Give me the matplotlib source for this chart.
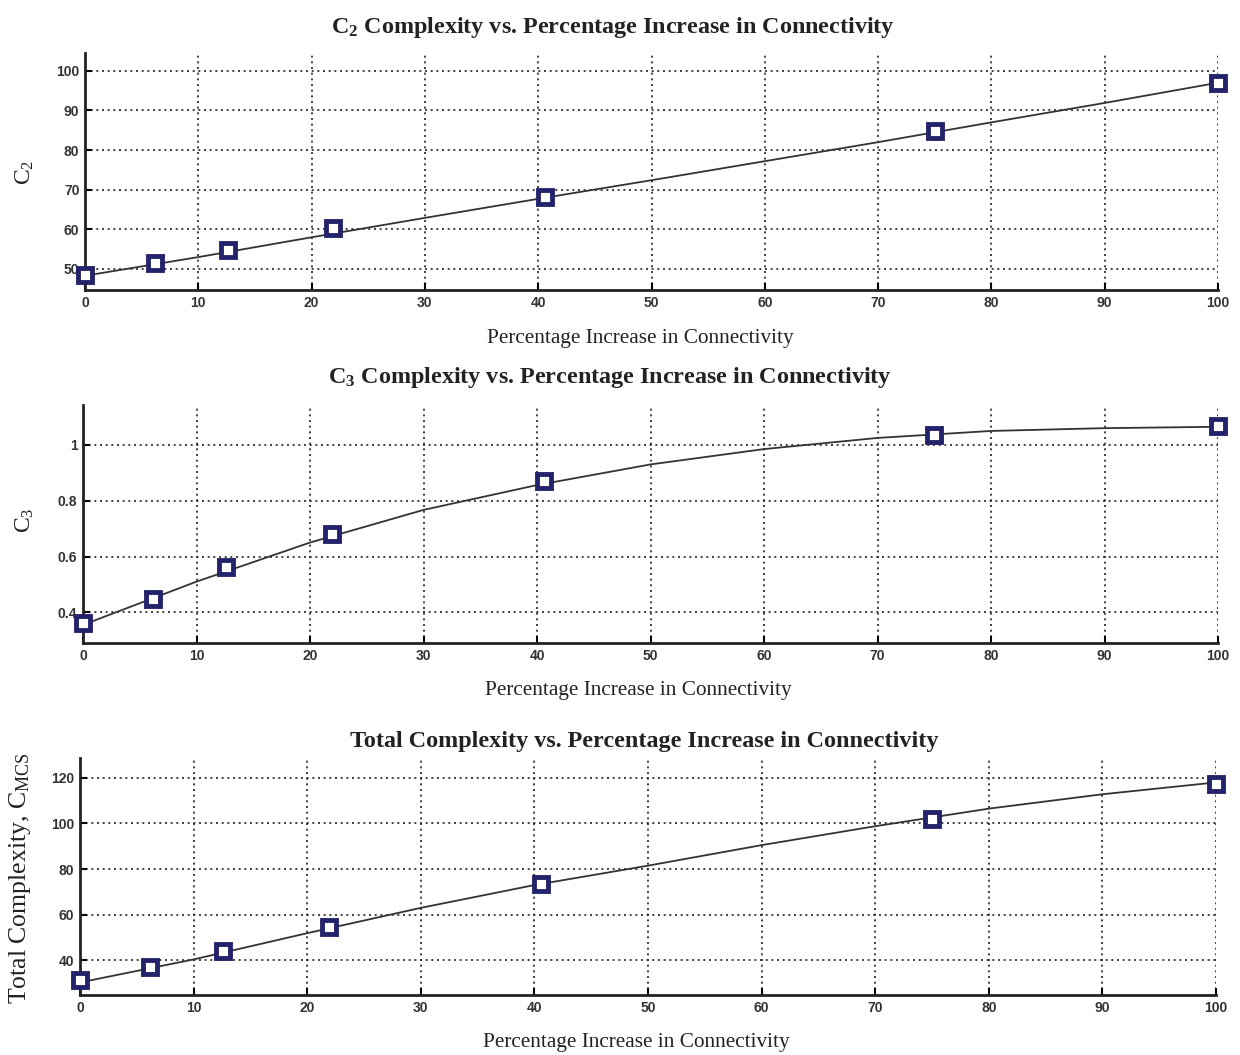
import numpy as np
import matplotlib
matplotlib.use("Agg")
import matplotlib.pyplot as plt
from matplotlib import font_manager

# measured points (percentage increase in connectivity)
pct = [0, 6.2, 12.6, 21.9, 40.6, 75, 100]
c2_pts = [48.5, 51.5, 54.8, 60.4, 68.2, 84.8, 97.0]
c3_pts = [0.36, 0.446, 0.561, 0.682, 0.871, 1.036, 1.068]
tot_pts = [31.2, 36.9, 44.0, 54.5, 73.4, 102.0, 117.4]

# fitted curves
fit_x = [0, 10, 20, 30, 40, 50, 60, 70, 80, 90, 100]
c2_fit = [48.3, 53.0, 58.0, 62.9, 67.7, 72.4, 77.2, 82.0, 87.0, 91.9, 97.0]
c3_fit = [0.355, 0.51, 0.65, 0.767, 0.856, 0.93, 0.985, 1.025, 1.05, 1.06, 1.065]
tot_fit = [30.3, 40.4, 51.9, 63.0, 73.0, 81.5, 90.5, 98.8, 106.5, 112.8, 118.0]

xticks = [0, 10, 20, 30, 40, 50, 60, 70, 80, 90, 100]

installed = {f.name for f in font_manager.fontManager.ttflist}
tick_font = "Liberation Sans Narrow" if "Liberation Sans Narrow" in installed else "Liberation Sans"
serif = "Liberation Serif"

plt.rcParams["mathtext.fontset"] = "custom"
plt.rcParams["mathtext.rm"] = serif
plt.rcParams["mathtext.it"] = serif + ":italic"
plt.rcParams["mathtext.bf"] = serif + ":bold"

W, H = 1240, 1055
fig = plt.figure(figsize=(W / 100, H / 100), dpi=100)
fig.patch.set_facecolor("white")


def px_axes(left, right, top, bottom):
    return fig.add_axes([left / W, 1 - bottom / H, (right - left) / W, (bottom - top) / H])


def style(ax, ylim, yticks, ylabels):
    ax.set_xlim(0, 100)
    ax.set_ylim(*ylim)
    ax.set_xticks(xticks)
    ax.set_yticks(yticks)
    ax.set_yticklabels(ylabels)
    for s in ["top", "right"]:
        ax.spines[s].set_visible(False)
    for s in ["left", "bottom"]:
        ax.spines[s].set_linewidth(2)
        ax.spines[s].set_color("#222222")
    ax.tick_params(direction="in", length=5, width=1.5, labelsize=10, pad=4)
    for lab in ax.get_xticklabels() + ax.get_yticklabels():
        lab.set_fontfamily(tick_font)
        lab.set_fontweight("bold")
        lab.set_color("#333333")
    ax.grid(True, color="#222222", linestyle=(0, (1.2, 2.2)), linewidth=1.2)
    ax.set_axisbelow(True)


navy = "#23236b"


def draw(ax, fit, pts):
    ax.plot(fit_x, fit, color="#333333", linewidth=1.3, zorder=3)
    ax.plot(pct, pts, linestyle="none", marker="s", markersize=10.5,
            markerfacecolor="white", markeredgecolor=navy, markeredgewidth=3.5,
            zorder=4, clip_on=False)


# panel 1
ax1 = px_axes(85, 1218, 53, 290)
draw(ax1, c2_fit, c2_pts)
style(ax1, (44.7, 104.5), [50, 60, 70, 80, 90, 100], ["50", "60", "70", "80", "90", "100"])

# panel 2
ax2 = px_axes(83, 1218, 405, 643)
draw(ax2, c3_fit, c3_pts)
style(ax2, (0.29, 1.143), [0.4, 0.6, 0.8, 1.0], ["0.4", "0.6", "0.8", "1"])

# panel 3
ax3 = px_axes(80, 1216, 758, 995)
draw(ax3, tot_fit, tot_pts)
style(ax3, (24.8, 128.7), [40, 60, 80, 100, 120], ["40", "60", "80", "100", "120"])

# titles
fig.text(613 / W, 1 - 27 / H, r"C$_\mathregular{2}$ Complexity vs. Percentage Increase in Connectivity",
         ha="center", va="center", fontsize=17.4, fontweight="bold", family=serif, color="#222222")
fig.text(610 / W, 1 - 378 / H, r"C$_\mathregular{3}$ Complexity vs. Percentage Increase in Connectivity",
         ha="center", va="center", fontsize=17.4, fontweight="bold", family=serif, color="#222222")
fig.text(644 / W, 1 - 742 / H, "Total Complexity vs. Percentage Increase in Connectivity",
         ha="center", va="center", fontsize=17.4, fontweight="bold", family=serif, color="#222222")

# x labels
for yy, xx in [(338, 640), (690, 638), (1042, 636)]:
    fig.text(xx / W, 1 - yy / H, "Percentage Increase in Connectivity",
             ha="center", va="center", fontsize=15.3, family=serif, color="#222222")

# y labels
fig.text(25 / W, 1 - 172 / H, r"C$_\mathregular{2}$", rotation=90, ha="center", va="center",
         fontsize=17, family=serif, color="#222222")
fig.text(25 / W, 1 - 520 / H, r"C$_\mathregular{3}$", rotation=90, ha="center", va="center",
         fontsize=17, family=serif, color="#222222")
fig.text(20 / W, 1 - 878 / H, r"Total Complexity, C$_\mathregular{MCS}$", rotation=90,
         ha="center", va="center", fontsize=18.5, family=serif, color="#222222")

fig.savefig("out.png", dpi=100, facecolor="white")
